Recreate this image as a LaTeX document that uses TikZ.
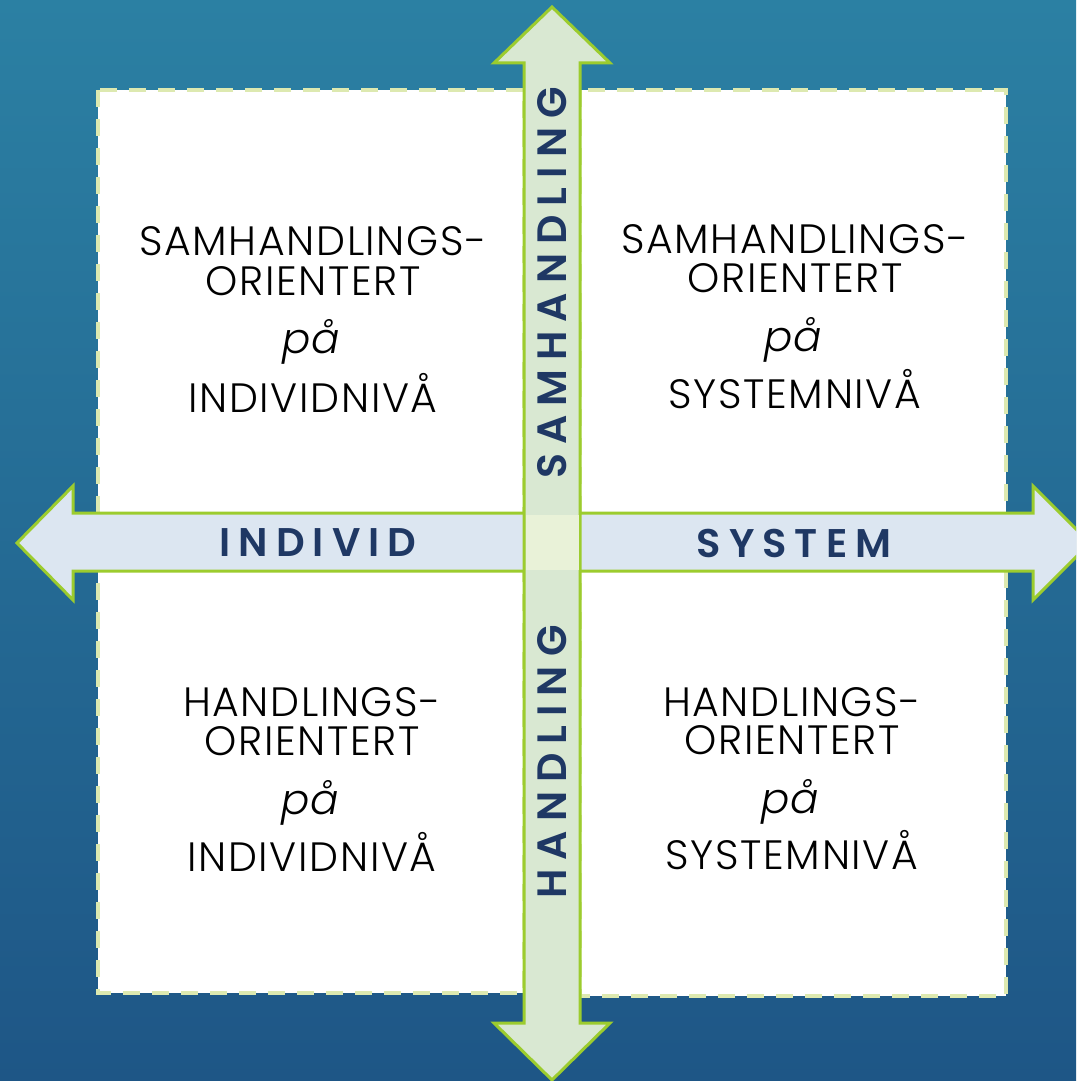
\documentclass[tikz,border=0pt]{standalone}
\usepackage{fontspec}
\setmainfont{Poppins}
\newfontfamily\qfont{Poppins Light}[LetterSpace=4]
\newfontfamily\qifont{Poppins Light Italic}
\newfontfamily\lfont{Poppins SemiBold}[LetterSpace=20]
\newfontfamily\vfont{Poppins SemiBold}[LetterSpace=22]
\definecolor{bgtop}{HTML}{2B80A3}
\definecolor{bgbot}{HTML}{1E5686}
\definecolor{dashgreen}{HTML}{DDE9B0}
\definecolor{arrowgreen}{HTML}{9CCC2E}
\definecolor{hblue}{HTML}{DCE6F1}
\definecolor{vgreen}{HTML}{D9E8D2}
\definecolor{centerfill}{HTML}{E9F2D8}
\definecolor{labelblue}{HTML}{1F3864}
\begin{document}
\begin{tikzpicture}[x=1pt,y=-1pt,
  qtext/.style={font=\qfont\fontsize{41}{41}\selectfont, text=black, anchor=base, inner sep=0},
  qital/.style={font=\qifont\fontsize{42}{42}\selectfont, text=black, anchor=base, inner sep=0},
  axlabel/.style={font=\lfont\fontsize{40}{40}\selectfont, text=labelblue, inner sep=0},
  vlabel/.style={font=\vfont\fontsize{41}{41}\selectfont, text=labelblue, inner sep=0, rotate=90},
  arrowshape/.style={draw=arrowgreen, line width=3pt, line join=miter},
  quad/.style={fill=white, draw=dashgreen, line width=4pt, dash pattern=on 17pt off 12pt}]
\useasboundingbox (0,0) rectangle (1076,1081);
\clip (0,0) rectangle (1076,1081);
\shade[top color=bgtop, bottom color=bgbot] (0,0) rectangle (1076,1081);
% white quadrant areas
\draw[quad] (98,90) rectangle (524,993);
\draw[quad] (580,90) rectangle (1006,996);
% horizontal arrow
\draw[arrowshape, fill=hblue] (17,543) -- (73,486) -- (73,513) -- (1033,513) -- (1033,486) -- (1090,543) -- (1033,600) -- (1033,571) -- (73,571) -- (73,600) -- cycle;
% vertical arrow
\draw[arrowshape, fill=vgreen] (552,7) -- (610,63) -- (580,63) -- (580,1023) -- (610,1023) -- (552,1080) -- (494,1023) -- (524,1023) -- (524,63) -- (494,63) -- cycle;
\fill[centerfill] (525.5,514.5) rectangle (578.5,569.5);
% axis labels
\node[axlabel] (individ) at (318,543) {INDIVID};
\node[axlabel] (system) at (794,543) {SYSTEM};
\node[vlabel] (samh) at (552,283) {SAMHANDLING};
\node[vlabel] (handl) at (552,762) {HANDLING};
% top-left
\node[qtext] (tl1) at (313,255) {SAMHANDLINGS-};
\node[qtext] (tl2) at (313,295) {ORIENTERT};
\node[qital] (tl3) at (311,353) {på};
\node[qtext] (tl4) at (313,412) {INDIVIDNIVÅ};
% top-right
\node[qtext] (tr1) at (795,253) {SAMHANDLINGS-};
\node[qtext] (tr2) at (795,292) {ORIENTERT};
\node[qital] (tr3) at (793,351) {på};
\node[qtext] (tr4) at (795,408) {SYSTEMNIVÅ};
% bottom-left
\node[qtext] (bl1) at (312,716) {HANDLINGS-};
\node[qtext] (bl2) at (312,755) {ORIENTERT};
\node[qital] (bl3) at (310,814) {på};
\node[qtext] (bl4) at (312,871) {INDIVIDNIVÅ};
% bottom-right
\node[qtext] (br1) at (792,716) {HANDLINGS-};
\node[qtext] (br2) at (792,754) {ORIENTERT};
\node[qital] (br3) at (790,813) {på};
\node[qtext] (br4) at (792,869) {SYSTEMNIVÅ};
\end{tikzpicture}
\end{document}
